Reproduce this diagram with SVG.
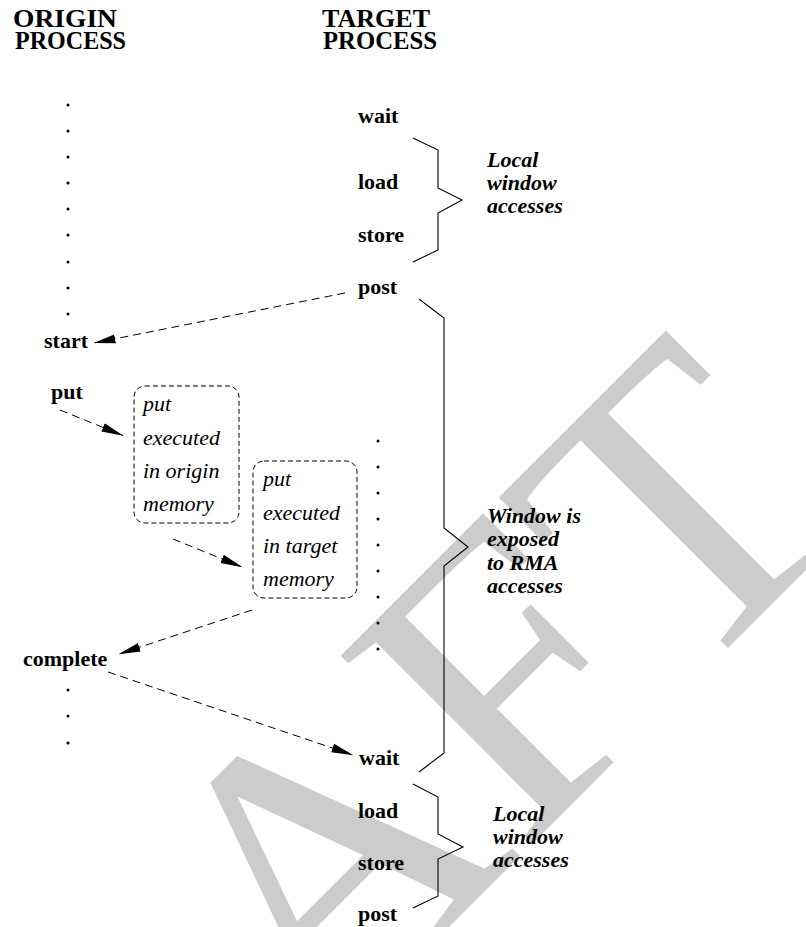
<svg xmlns="http://www.w3.org/2000/svg" width="806" height="927" viewBox="0 0 806 927">
<style>
.wm{font-family:"Liberation Serif","Times New Roman",serif;font-size:410px;fill:#cccccc}
.hdr{font-family:"Liberation Serif","Times New Roman",serif;font-size:25px;font-weight:bold;fill:#000}
.lbl{font-family:"Liberation Serif","Times New Roman",serif;font-size:22px;font-weight:bold;fill:#000}
.it{font-family:"Liberation Serif","Times New Roman",serif;font-size:22px;font-style:italic;fill:#000}
.bi{font-family:"Liberation Serif","Times New Roman",serif;font-size:22px;font-style:italic;font-weight:bold;fill:#000}
.dash{fill:none;stroke:#000;stroke-width:1;stroke-dasharray:8 5;marker-end:url(#ah)}
.box{fill:none;stroke:#000;stroke-width:1;stroke-dasharray:5 3}
.brace{fill:none;stroke:#000;stroke-width:1.1}
.dot{fill:#000}
</style>
<defs>
<marker id="ah" markerUnits="userSpaceOnUse" markerWidth="22" markerHeight="10" viewBox="0 0 22 10" refX="21.5" refY="5" orient="auto">
<path d="M0,0.5 L22,5 L0,9.5 z" fill="#000"/>
</marker>
</defs>
<rect width="806" height="927" fill="#fff"/>
<g id="watermark">
<text class="wm" transform="translate(-90,1466) rotate(-45)">DRAFT</text>
</g>
<g id="headers">
<text class="hdr" x="13" y="27" textLength="104" lengthAdjust="spacingAndGlyphs">ORIGIN</text>
<text class="hdr" x="15" y="49" textLength="111" lengthAdjust="spacingAndGlyphs">PROCESS</text>
<text class="hdr" x="322" y="27" textLength="108" lengthAdjust="spacingAndGlyphs">TARGET</text>
<text class="hdr" x="323" y="49" textLength="114" lengthAdjust="spacingAndGlyphs">PROCESS</text>
</g>
<g id="origin-dots">
<circle class="dot" cx="68" cy="105" r="1.5"/>
<circle class="dot" cx="68" cy="131" r="1.5"/>
<circle class="dot" cx="68" cy="157" r="1.5"/>
<circle class="dot" cx="68" cy="183" r="1.5"/>
<circle class="dot" cx="68" cy="209" r="1.5"/>
<circle class="dot" cx="68" cy="235" r="1.5"/>
<circle class="dot" cx="68" cy="262" r="1.5"/>
<circle class="dot" cx="68" cy="288" r="1.5"/>
<circle class="dot" cx="68" cy="314" r="1.5"/>
<circle class="dot" cx="68" cy="690" r="1.5"/>
<circle class="dot" cx="68" cy="716" r="1.5"/>
<circle class="dot" cx="68" cy="743" r="1.5"/>
</g>
<g id="target-dots">
<circle class="dot" cx="378" cy="441" r="1.5"/>
<circle class="dot" cx="378" cy="467" r="1.5"/>
<circle class="dot" cx="378" cy="493" r="1.5"/>
<circle class="dot" cx="378" cy="519" r="1.5"/>
<circle class="dot" cx="378" cy="545" r="1.5"/>
<circle class="dot" cx="378" cy="571" r="1.5"/>
<circle class="dot" cx="378" cy="597" r="1.5"/>
<circle class="dot" cx="378" cy="623" r="1.5"/>
<circle class="dot" cx="378" cy="649" r="1.5"/>
</g>
<g id="node-start"><text class="lbl" x="44" y="348">start</text></g>
<g id="node-put"><text class="lbl" x="51" y="399">put</text></g>
<g id="node-complete"><text class="lbl" x="23" y="666">complete</text></g>
<g id="node-wait1"><text class="lbl" x="358" y="123">wait</text></g>
<g id="node-load1"><text class="lbl" x="358" y="189">load</text></g>
<g id="node-store1"><text class="lbl" x="358" y="242">store</text></g>
<g id="node-post1"><text class="lbl" x="358" y="294">post</text></g>
<g id="node-wait2"><text class="lbl" x="359" y="765">wait</text></g>
<g id="node-load2"><text class="lbl" x="358" y="818">load</text></g>
<g id="node-store2"><text class="lbl" x="358" y="870">store</text></g>
<g id="node-post2"><text class="lbl" x="358" y="921">post</text></g>
<g id="node-box-origin">
<rect class="box" x="134" y="386" width="105" height="137" rx="11"/>
<text class="it" x="143" y="411">put</text>
<text class="it" x="143" y="444.5">executed</text>
<text class="it" x="143" y="478">in origin</text>
<text class="it" x="143" y="511">memory</text>
</g>
<g id="node-box-target">
<rect class="box" x="253" y="461" width="104" height="137" rx="11"/>
<text class="it" x="263" y="486">put</text>
<text class="it" x="263" y="519.5">executed</text>
<text class="it" x="263" y="553">in target</text>
<text class="it" x="263" y="586">memory</text>
</g>
<g id="brace-local1">
<polyline class="brace" points="413,138 438,150 438,188 462,200 438,213 438,250 413,262"/>
<text class="bi" x="487" y="167">Local</text>
<text class="bi" x="487" y="190">window</text>
<text class="bi" x="487" y="213">accesses</text>
</g>
<g id="brace-exposed">
<polyline class="brace" points="419,299 444,318 444,528 468,547 444,566 444,753 419,772"/>
<text class="bi" x="487" y="523">Window is</text>
<text class="bi" x="487" y="546">exposed</text>
<text class="bi" x="487" y="570">to RMA</text>
<text class="bi" x="487" y="593">accesses</text>
</g>
<g id="brace-local2">
<polyline class="brace" points="413,784 438,797 438,834 463,847 438,859 438,896 413,908"/>
<text class="bi" x="493" y="821">Local</text>
<text class="bi" x="493" y="844">window</text>
<text class="bi" x="493" y="867">accesses</text>
</g>
<g id="connectors">
<line class="dash" x1="345" y1="293" x2="94" y2="343"/>
<line class="dash" x1="60" y1="410" x2="123" y2="435.5"/>
<line class="dash" x1="173" y1="539" x2="242" y2="567"/>
<line class="dash" x1="252" y1="610" x2="119" y2="654"/>
<line class="dash" x1="108" y1="672" x2="353" y2="755"/>
</g>
</svg>
